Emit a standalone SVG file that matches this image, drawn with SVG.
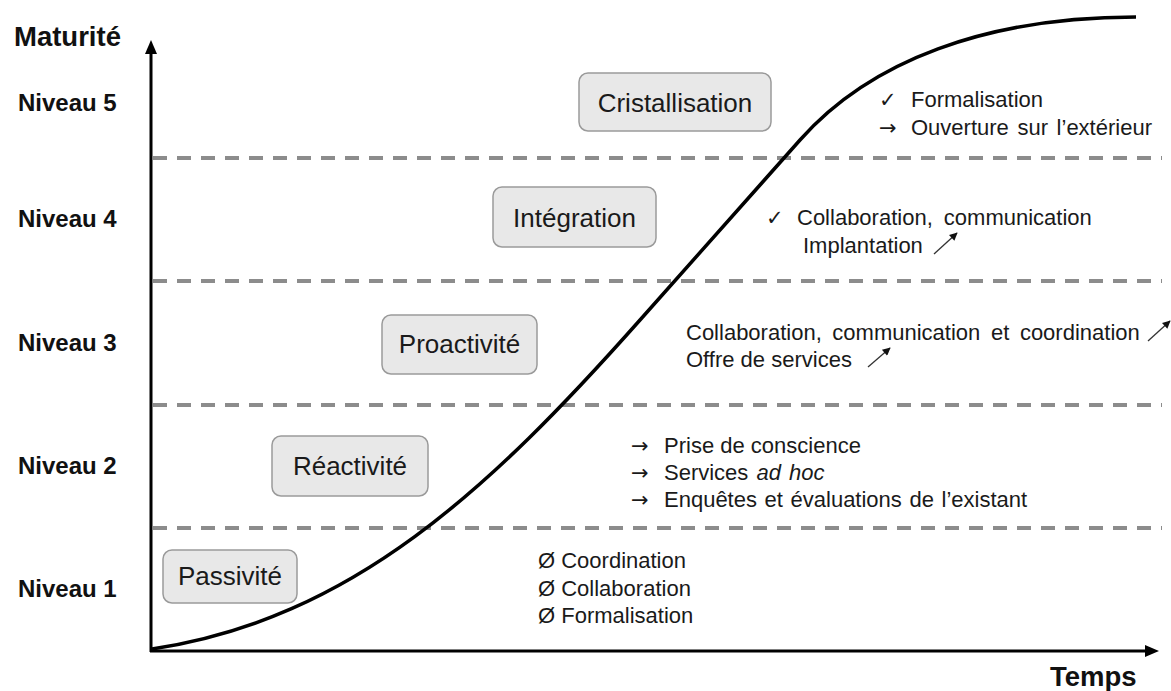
<svg xmlns="http://www.w3.org/2000/svg" width="1171" height="691" viewBox="0 0 1171 691">
  <defs>
    <style>
      .ax { font-family: "Liberation Sans", Arial, sans-serif; font-weight: bold; fill: #111; }
      .lvl { font-size: 24px; }
      .box rect { fill: #e8e8e8; stroke: #9a9a9a; stroke-width: 1.5; }
      .box text { font-family: "Liberation Sans", Arial, sans-serif; font-size: 26px; fill: #1a1a1a; text-anchor: middle; }
      .t { font-family: "Liberation Sans", Arial, sans-serif; font-size: 22px; fill: #1a1a1a; }
      .chk { font-family: "DejaVu Sans", "Liberation Sans", sans-serif; font-size: 21px; fill: #1a1a1a; }
      .sym { font-family: "DejaVu Sans", "Liberation Sans", sans-serif; font-size: 21px; fill: #1a1a1a; }
      .dash { stroke: #8c8c8c; stroke-width: 4; stroke-dasharray: 14 10; fill: none; }
      .up { stroke: #333; stroke-width: 1.3; fill: none; marker-end: url(#tip); }
    </style>
    <marker id="tip" viewBox="0 0 10 10" refX="9" refY="5" markerWidth="10" markerHeight="8" markerUnits="userSpaceOnUse" orient="auto">
      <path d="M0,0 L10,5 L0,10 Z" fill="#111"/>
    </marker>
  </defs>
  <rect width="1171" height="691" fill="#ffffff"/>

  <g id="levels">
    <line class="dash" x1="153" y1="158" x2="1162" y2="158"/>
    <line class="dash" x1="153" y1="281" x2="1162" y2="281"/>
    <line class="dash" x1="153" y1="405" x2="1162" y2="405"/>
    <line class="dash" x1="153" y1="528" x2="1162" y2="528"/>
  </g>

  <g id="axes">
    <line x1="151" y1="652" x2="151" y2="52" stroke="#000" stroke-width="3"/>
    <polygon points="151,40 145,54 157,54" fill="#000"/>
    <line x1="150" y1="651" x2="1146" y2="651" stroke="#000" stroke-width="3"/>
    <polygon points="1159,651 1145,645 1145,657" fill="#000"/>
    <text class="ax" x="14" y="46" font-size="27.5">Maturité</text>
    <text class="ax" x="1050" y="686" font-size="27.5">Temps</text>
    <text class="ax lvl" x="18" y="111">Niveau 5</text>
    <text class="ax lvl" x="18" y="227">Niveau 4</text>
    <text class="ax lvl" x="18" y="351">Niveau 3</text>
    <text class="ax lvl" x="18" y="474">Niveau 2</text>
    <text class="ax lvl" x="18" y="597">Niveau 1</text>
  </g>

  <g id="connectors">
    <path id="curve" d="M152,649 C352,619 490,489 640,320 L800,140 C870,61 986,17 1136,17" fill="none" stroke="#000" stroke-width="3.5"/>
  </g>

  <g id="node-cristallisation" class="box">
    <rect x="579" y="73" width="192" height="58" rx="9"/>
    <text x="675" y="112">Cristallisation</text>
  </g>
  <g id="node-integration" class="box">
    <rect x="493" y="187" width="163" height="60" rx="9"/>
    <text x="574.5" y="227">Intégration</text>
  </g>
  <g id="node-proactivite" class="box">
    <rect x="382" y="315" width="155" height="59" rx="9"/>
    <text x="459.5" y="353">Proactivité</text>
  </g>
  <g id="node-reactivite" class="box">
    <rect x="272" y="436" width="156" height="60" rx="9"/>
    <text x="350" y="475">Réactivité</text>
  </g>
  <g id="node-passivite" class="box">
    <rect x="163" y="550" width="134" height="53" rx="9"/>
    <text x="230" y="585">Passivité</text>
  </g>

  <g id="notes-5">
    <text class="chk" x="879" y="107">✓</text>
    <text class="t" x="911" y="107">Formalisation</text>
    <text class="sym" x="879" y="135">→</text>
    <text class="t" x="911" y="135" word-spacing="2.5">Ouverture sur l’extérieur</text>
  </g>
  <g id="notes-4">
    <text class="chk" x="766" y="225">✓</text>
    <text class="t" x="797" y="225" word-spacing="5">Collaboration, communication</text>
    <text class="t" x="803" y="253">Implantation</text>
    <line class="up" x1="934" y1="254" x2="957" y2="233"/>
  </g>
  <g id="notes-3">
    <text class="t" x="686" y="340" word-spacing="4.5">Collaboration, communication et coordination</text>
    <line class="up" x1="1148" y1="341" x2="1170" y2="321"/>
    <text class="t" x="686" y="367">Offre de services</text>
    <line class="up" x1="868" y1="367" x2="890" y2="348"/>
  </g>
  <g id="notes-2">
    <text class="sym" x="631" y="453">→</text>
    <text class="t" x="664" y="453">Prise de conscience</text>
    <text class="sym" x="631" y="480">→</text>
    <text class="t" x="664" y="480" word-spacing="2">Services <tspan font-style="italic">ad hoc</tspan></text>
    <text class="sym" x="631" y="507">→</text>
    <text class="t" x="664" y="507" word-spacing="1.5">Enquêtes et évaluations de l’existant</text>
  </g>
  <g id="notes-1">
    <text class="t" x="538" y="568">Ø Coordination</text>
    <text class="t" x="538" y="596">Ø Collaboration</text>
    <text class="t" x="538" y="623">Ø Formalisation</text>
  </g>
</svg>
